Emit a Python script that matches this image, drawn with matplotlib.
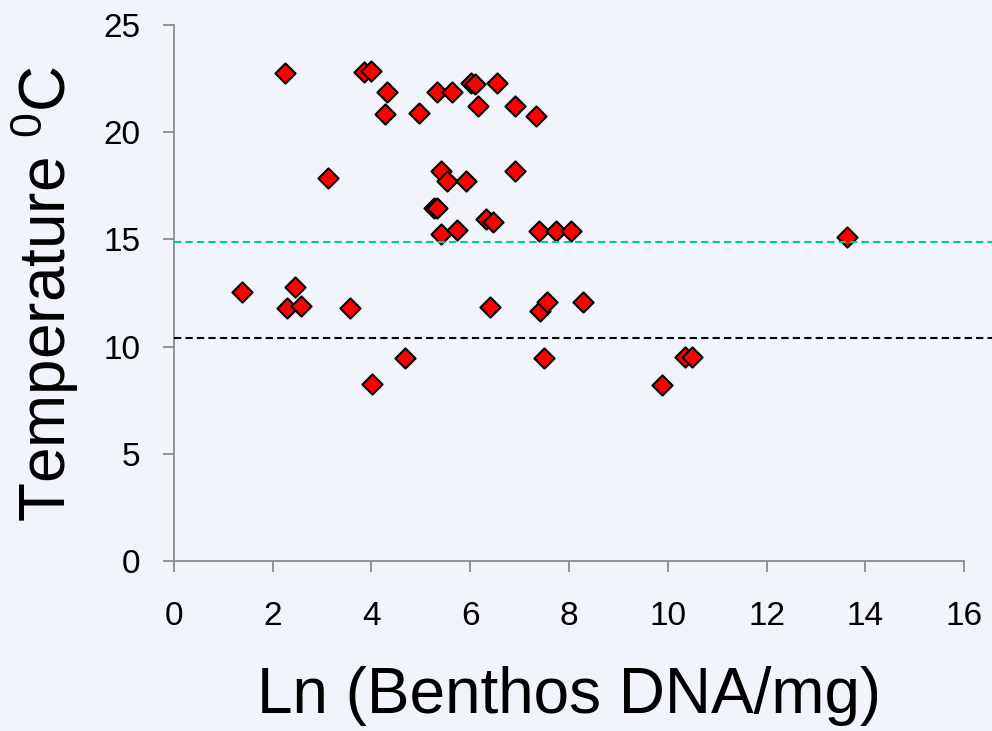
import matplotlib.pyplot as plt

plt.rcParams['font.family'] = ['Liberation Sans', 'DejaVu Sans']

# Ln(benthos DNA/mg) vs water temperature, one point per sample
ln_dna = [2.25, 3.85, 3.98, 4.32, 4.27, 4.96, 5.33, 5.64, 6.01, 6.09,
          6.55, 6.16, 6.91, 7.34, 3.12, 5.40, 5.53, 5.91, 6.91, 5.26,
          5.32, 6.32, 6.46, 5.40, 5.74, 7.39, 7.73, 8.04, 1.37, 2.46,
          2.28, 2.58, 3.57, 6.39, 7.41, 7.56, 8.29, 4.01, 4.68, 7.50,
          13.63, 10.34, 10.49, 9.88]
temperature = [22.75, 22.79, 22.87, 21.89, 20.85, 20.88, 21.89, 21.89, 22.31, 22.23,
               22.28, 21.22, 21.22, 20.76, 17.85, 18.20, 17.72, 17.72, 18.19, 16.45,
               16.48, 15.95, 15.83, 15.25, 15.44, 15.41, 15.41, 15.41, 12.56, 12.79,
               11.79, 11.89, 11.79, 11.86, 11.66, 12.08, 12.08, 8.26, 9.48, 9.48,
               15.13, 9.50, 9.50, 8.19]

# reference temperature levels (dashed lines)
upper_level = 14.9
lower_level = 10.4

x_ticks = [0, 2, 4, 6, 8, 10, 12, 14, 16]
y_ticks = [0, 5, 10, 15, 20, 25]

bg = '#F2F4FC'
axis_grey = '#8C8C8C'

fig = plt.figure(figsize=(9.92, 7.31), dpi=100)
fig.patch.set_facecolor(bg)
ax = fig.add_axes([0.1754, 0.2326, 0.8246, 0.7332])
ax.set_facecolor(bg)

ax.scatter(ln_dna, temperature, marker='D', s=105, c='#FF0000',
           edgecolors='black', linewidths=1.5, zorder=2, clip_on=False)

ax.axhline(upper_level, color='#00C896', lw=1.5, dashes=(3.5, 2), zorder=3)
ax.axhline(lower_level, color='black', lw=1.5, dashes=(3.5, 2), zorder=3)

ax.set_xlim(0, 16.567)
ax.set_ylim(0, 25)
ax.set_xticks(x_ticks)
ax.set_yticks(y_ticks)

for side in ['top', 'right']:
    ax.spines[side].set_visible(False)
for side in ['left', 'bottom']:
    ax.spines[side].set_color(axis_grey)
    ax.spines[side].set_linewidth(1.3)
ax.spines['bottom'].set_bounds(0, 16)

ax.tick_params(axis='both', direction='out', length=8, width=1.3,
               color=axis_grey, labelsize=24)
ax.tick_params(axis='x', pad=21)
ax.tick_params(axis='y', pad=16)

ax.set_xlabel('Ln (Benthos DNA/mg)', fontsize=46)
ax.set_ylabel(r'Temperature $\mathregular{^0}$C', fontsize=46)
ax.xaxis.set_label_coords(0.483, -0.196)
ax.yaxis.set_label_coords(-0.114, 0.499)

plt.savefig('out.png', dpi=100, facecolor=bg)
